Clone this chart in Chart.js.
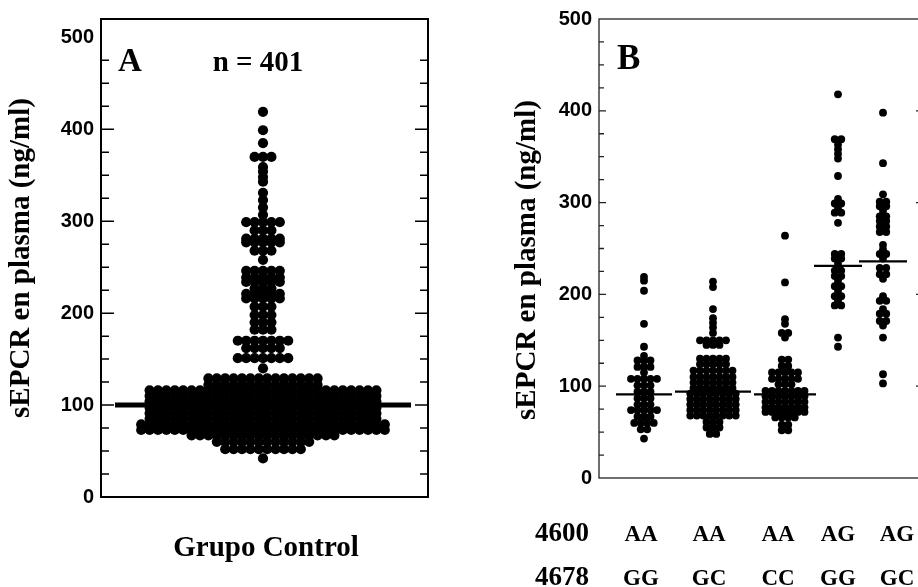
<!DOCTYPE html>
<html lang="es">
<head>
<meta charset="UTF-8">
<title>sEPCR en plasma</title>
<script src="https://cdn.jsdelivr.net/npm/chart.js"></script>
<style>
  html, body { margin: 0; padding: 0; background: #fff; overflow: hidden; }
  #wrap { position: relative; width: 918px; height: 587px; overflow: hidden; }
  #chartA { position: absolute; left: 0; top: 0; }
  #chartB { position: absolute; left: 459px; top: 0; }
</style>
</head>
<body>
<div id="wrap">
  <canvas id="chartA" width="459" height="587"></canvas>
  <canvas id="chartB" width="470" height="587"></canvas>
</div>
<script>
// ---- Datos ----
// Panel A: nivel de sEPCR (ng/ml) de cada fila y número de puntos en esa fila
const controlLevels = [419, 399, 385, 370, 359, 354, 348, 343, 331, 323, 315, 307,
  299, 290, 281, 277, 268, 258, 246, 239, 234, 227, 221, 216, 207, 198, 190, 182,
  170, 162, 151, 140, 129, 122, 116, 110, 104, 97, 91, 85, 79, 73, 67, 60, 52, 42];
const controlCounts = [1, 1, 1, 3, 1, 1, 1, 1, 1, 1, 1, 1,
  5, 3, 5, 5, 3, 1, 5, 5, 5, 3, 5, 5, 3, 3, 3, 3,
  7, 5, 7, 1, 14, 14, 28, 28, 28, 28, 28, 28, 30, 30, 18, 12, 10, 1];
const controlMean = 100;

const yTickLabels = [0, 100, 200, 300, 400, 500];

// Panel B: genotipos 4600 / 4678
const genotypes4600 = ['AA', 'AA', 'AA', 'AG', 'AG'];
const genotypes4678 = ['GG', 'GC', 'CC', 'GG', 'GC'];

const aaggLevels = [219, 215, 204, 168, 143, 133, 128, 121, 115, 108, 101, 94, 87, 80, 74, 67, 60, 53, 43];
const aaggCounts = [1, 1, 1, 1, 1, 1, 3, 3, 1, 5, 3, 3, 3, 3, 5, 3, 4, 2, 1];

const aagcLevels = [214, 208, 184, 174, 169, 164, 158, 150, 145, 130, 124, 117, 110, 104, 98, 92, 86, 80, 74, 68, 61, 55, 48];
const aagcCounts = [1, 1, 1, 1, 1, 1, 1, 5, 3, 5, 5, 7, 7, 7, 7, 8, 8, 8, 8, 8, 3, 3, 2];

const aaccLevels = [264, 213, 173, 168, 158, 153, 129, 122, 115, 108, 102, 95, 89, 83, 77, 72, 66, 58, 52];
const aaccCounts = [1, 1, 1, 1, 2, 1, 2, 2, 5, 5, 3, 7, 7, 7, 7, 7, 4, 2, 2];

const agggLevels = [418, 369, 363, 358, 353, 348, 329, 304, 299, 294, 289, 278, 244, 239, 233, 226, 220, 215, 209, 204, 198, 193, 188, 153, 143];
const agggCounts = [1, 2, 1, 1, 1, 1, 1, 1, 2, 1, 2, 1, 2, 2, 1, 2, 2, 1, 2, 1, 2, 1, 2, 1, 1];

const aggcLevels = [398, 343, 309, 301, 296, 291, 285, 280, 274, 268, 254, 249, 244, 239, 229, 222, 217, 198, 193, 184, 179, 171, 166, 153, 113, 103];
const aggcCounts = [1, 1, 1, 2, 2, 1, 2, 2, 2, 2, 1, 1, 2, 1, 2, 2, 1, 1, 2, 1, 2, 2, 1, 1, 1, 1];

const genotypeMeans = [91, 94, 91, 231, 236];

// ---- Disposición ----
const groupX = [45, 114, 186, 239, 284];      // centro de cada genotipo en el eje x de B
const labelX = [42, 110, 179, 239, 298];      // posición de las etiquetas de genotipo
const meanHalf = [28, 38, 31, 24, 24];

Chart.defaults.font.family = '"Liberation Sans", Arial, sans-serif';
Chart.defaults.color = '#000';

// coloca los puntos de una fila uno al lado del otro, centrados
function swarm(levels, counts, center, gap) {
  const pts = [];
  levels.forEach((v, i) => {
    const n = counts[i];
    for (let k = 0; k < n; k++) {
      pts.push({ x: center + (k - (n - 1) / 2) * gap, y: v });
    }
  });
  return pts;
}

function dots(data, r) {
  return {
    type: 'scatter', data: data, pointRadius: r, pointBackgroundColor: '#000',
    pointBorderWidth: 0, pointHoverRadius: r, order: 2
  };
}

function meanLine(center, half, mean, width) {
  return {
    type: 'line', data: [{ x: center - half, y: mean }, { x: center + half, y: mean }],
    borderColor: '#000', borderWidth: width, pointRadius: 0, order: 1
  };
}

function yTitle(ctx, x, y) {
  ctx.save();
  ctx.translate(x, y);
  ctx.rotate(-Math.PI / 2);
  ctx.font = 'bold 29px "Liberation Serif", "Times New Roman", serif';
  ctx.textAlign = 'center';
  ctx.textBaseline = 'middle';
  ctx.fillText('sEPCR en plasma (ng/ml)', 0, 0);
  ctx.restore();
}

function yScale(max, width) {
  return {
    min: 0, max: max,
    afterFit: s => { s.width = width; },
    afterBuildTicks: s => { s.ticks = yTickLabels.map(v => ({ value: v })); },
    ticks: { font: { size: 20, weight: 'bold' }, color: '#000', padding: 7 },
    grid: { display: false, drawTicks: false },
    border: { display: false }
  };
}

// ---- Panel A ----
const panelA = {
  id: 'panelA',
  afterDraw(chart) {
    const { ctx, chartArea: a, scales: { y } } = chart;
    ctx.save();
    ctx.strokeStyle = '#000';
    ctx.lineWidth = 2;
    ctx.strokeRect(a.left, a.top, a.right - a.left, a.bottom - a.top);
    ctx.lineWidth = 1.5;
    for (let v = 25; v < 500; v += 25) {
      const py = y.getPixelForValue(v);
      const len = v % 100 === 0 ? 13 : 8;
      ctx.beginPath();
      ctx.moveTo(a.left, py); ctx.lineTo(a.left + len, py);
      ctx.moveTo(a.right, py); ctx.lineTo(a.right - len, py);
      ctx.stroke();
    }
    ctx.fillStyle = '#000';
    ctx.textBaseline = 'alphabetic';
    ctx.font = 'bold 33px "Liberation Serif", serif';
    ctx.textAlign = 'left';
    ctx.fillText('A', a.left + 17, 71);
    ctx.font = 'bold 29px "Liberation Serif", serif';
    ctx.textAlign = 'center';
    ctx.fillText('n = 401', 258, 71);
    ctx.fillText('Grupo Control', 266, 556);
    ctx.restore();
    yTitle(ctx, 22, 258);
  }
};

new Chart(document.getElementById('chartA'), {
  data: {
    datasets: [
      meanLine(0, 148, controlMean, 5),
      dots(swarm(controlLevels, controlCounts, 0, 8.4), 5.1)
    ]
  },
  options: {
    responsive: false, animation: false, events: [], devicePixelRatio: 1,
    layout: { padding: { left: 0, right: 31, top: 17, bottom: 90 } },
    plugins: { legend: { display: false }, tooltip: { enabled: false } },
    scales: {
      x: { type: 'linear', min: -162, max: 165, display: false },
      y: yScale(520, 101)
    }
  },
  plugins: [panelA]
});

// ---- Panel B ----
const panelB = {
  id: 'panelB',
  afterDraw(chart) {
    const { ctx, chartArea: a, scales: { x, y } } = chart;
    ctx.save();
    ctx.strokeStyle = '#222';
    ctx.lineWidth = 1.3;
    ctx.strokeRect(a.left, a.top, a.right - a.left, a.bottom - a.top);
    for (let v = 25; v < 500; v += 25) {
      const py = y.getPixelForValue(v);
      const major = v % 100 === 0;
      ctx.beginPath();
      ctx.moveTo(a.left, py); ctx.lineTo(a.left + (major ? 7 : 5), py);
      ctx.moveTo(a.right, py); ctx.lineTo(a.right - (major ? 8 : 5), py);
      ctx.stroke();
    }
    ctx.fillStyle = '#000';
    ctx.textBaseline = 'alphabetic';
    ctx.font = 'bold 35px "Liberation Serif", serif';
    ctx.textAlign = 'left';
    ctx.fillText('B', a.left + 18, 69);
    ctx.font = 'bold 27px "Liberation Serif", serif';
    ctx.textAlign = 'right';
    ctx.fillText('4600', a.left - 10, 541);
    ctx.fillText('4678', a.left - 10, 585);
    ctx.font = 'bold 23px "Liberation Serif", serif';
    ctx.textAlign = 'center';
    labelX.forEach((lx, i) => {
      const px = x.getPixelForValue(lx);
      ctx.fillText(genotypes4600[i], px, 541);
      ctx.fillText(genotypes4678[i], px, 585);
    });
    ctx.restore();
    yTitle(ctx, a.left - 71, 260);
  }
};

const groupLevels = [aaggLevels, aagcLevels, aaccLevels, agggLevels, aggcLevels];
const groupCounts = [aaggCounts, aagcCounts, aaccCounts, agggCounts, aggcCounts];

const datasetsB = [];
genotypeMeans.forEach((m, i) => datasetsB.push(meanLine(groupX[i], meanHalf[i], m, 2.2)));
groupLevels.forEach((lv, i) => datasetsB.push(dots(swarm(lv, groupCounts[i], groupX[i], 6.5), 3.9)));

new Chart(document.getElementById('chartB'), {
  data: { datasets: datasetsB },
  options: {
    responsive: false, animation: false, events: [], devicePixelRatio: 1,
    layout: { padding: { left: 0, right: 5, top: 16, bottom: 109 } },
    plugins: { legend: { display: false }, tooltip: { enabled: false } },
    scales: {
      x: { type: 'linear', min: 0, max: 325, display: false },
      y: yScale(500, 140)
    }
  },
  plugins: [panelB]
});
</script>
</body>
</html>
